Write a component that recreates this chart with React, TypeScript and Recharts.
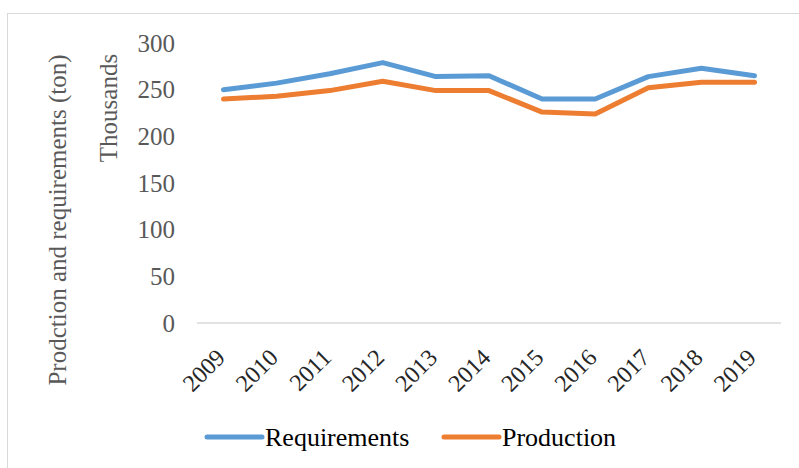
import { LineChart, Line, XAxis, YAxis, Legend, Label } from 'recharts'

const YEARS = ['2009', '2010', '2011', '2012', '2013', '2014', '2015', '2016', '2017', '2018', '2019']
const REQUIREMENTS = [250, 257, 267, 279, 264, 265, 240, 240, 264, 273, 265]
const PRODUCTION = [240, 243, 249, 259, 249, 249, 226, 224, 252, 258, 258]
const Y_TICKS = [0, 50, 100, 150, 200, 250, 300]
const SERIES_ORDER = ['Requirements', 'Production']

const BLUE = '#5B9BD5'
const ORANGE = '#ED7D31'
const FONT = 'Liberation Serif'

const data = YEARS.map((year, i) => ({
  year,
  requirements: REQUIREMENTS[i],
  production: PRODUCTION[i],
}))

function YTick({ x, y, payload }: any) {
  return (
    <text x={x} y={y} dy="0.35em" textAnchor="end" fill="#595959" style={{ fontFamily: FONT, fontSize: 25 }}>
      {payload.value}
    </text>
  )
}

function XTick({ x, y, payload }: any) {
  return (
    <g transform={`translate(${x - 3},${y + 22}) rotate(-45)`}>
      <text x={0} y={0} dy="0.35em" textAnchor="end" fill="#262626" style={{ fontFamily: FONT, fontSize: 24 }}>
        {payload.value}
      </text>
    </g>
  )
}

function LegendBox({ payload }: any) {
  const items = [...(payload || [])].sort(
    (a: any, b: any) => SERIES_ORDER.indexOf(a.value) - SERIES_ORDER.indexOf(b.value)
  )
  return (
    <svg width={799} height={45} style={{ display: 'block' }}>
      {items.map((p: any, i: number) => {
        const x0 = 207 + i * 237
        return (
          <g key={p.value}>
            <line x1={x0} y1={22} x2={x0 + 55} y2={22} stroke={p.color} strokeWidth={5} strokeLinecap="round" />
            <text x={x0 + 58} y={31} fill="#000" style={{ fontFamily: FONT, fontSize: 26 }}>{p.value}</text>
          </g>
        )
      })}
    </svg>
  )
}

export default function App() {
  return (
    <div style={{ position: 'absolute', left: 0, top: 0, width: 799, height: 468, background: '#fff', overflow: 'hidden' }}>
      <div style={{ position: 'absolute', left: 7, top: 13, width: 820, height: 500, border: '1.5px solid #d9d9d9' }} />
      <LineChart
        width={799}
        height={468}
        data={data}
        margin={{ top: 43, right: 18, left: 0, bottom: 0 }}
        style={{ position: 'absolute', left: 0, top: 0 }}
      >
        <XAxis
          dataKey="year"
          height={100}
          interval={0}
          padding={{ left: 26.5, right: 26.5 }}
          tickLine={false}
          axisLine={{ stroke: '#d9d9d9', strokeWidth: 1.5 }}
          tick={<XTick />}
        />
        <YAxis
          width={197}
          domain={[0, 300]}
          ticks={Y_TICKS}
          axisLine={false}
          tickLine={false}
          tickMargin={16}
          tick={<YTick />}
        >
          <Label
            content={() => (
              <text transform="translate(66,220) rotate(-90)" textAnchor="middle" fill="#595959" style={{ fontFamily: FONT, fontSize: 25 }}>
                Prodction and requirements (ton)
              </text>
            )}
          />
          <Label
            content={() => (
              <text transform="translate(117,108) rotate(-90)" textAnchor="middle" fill="#595959" style={{ fontFamily: FONT, fontSize: 25 }}>
                Thousands
              </text>
            )}
          />
        </YAxis>
        <Legend
          verticalAlign="bottom"
          content={<LegendBox />}
          wrapperStyle={{ left: 0, top: 415, width: 799, height: 45 }}
        />
        <Line dataKey="requirements" name="Requirements" stroke={BLUE} strokeWidth={5} dot={false} strokeLinejoin="round" strokeLinecap="round" isAnimationActive={false} />
        <Line dataKey="production" name="Production" stroke={ORANGE} strokeWidth={5} dot={false} strokeLinejoin="round" strokeLinecap="round" isAnimationActive={false} />
      </LineChart>
    </div>
  )
}
